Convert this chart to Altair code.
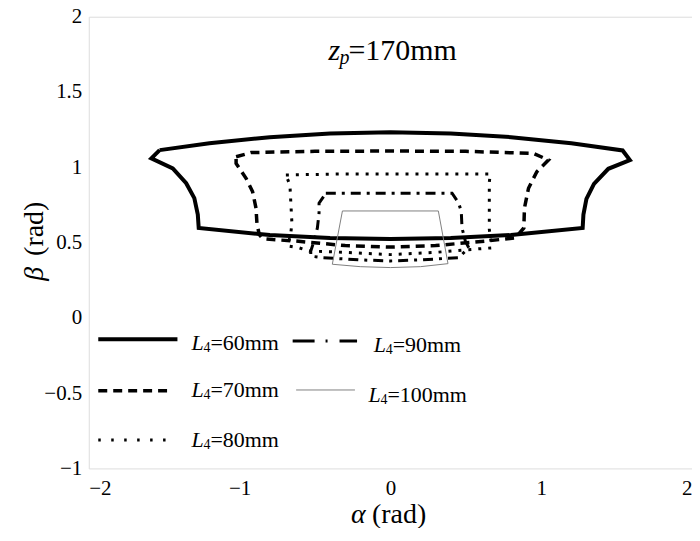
import altair as alt
import pandas as pd

# ---------------- data ----------------
l60_x = [-1.53, -1.2, -0.8, -0.4, 0.0, 0.4, 0.8, 1.2, 1.54, 1.588,
         1.445, 1.35, 1.30, 1.28, 1.275,
         0.8, 0.4, 0.0, -0.4, -0.8, -1.271,
         -1.277, -1.30, -1.354, -1.443, -1.585, -1.53]
l60_y = [1.114, 1.16, 1.20, 1.225, 1.233, 1.225, 1.20, 1.16, 1.112, 1.048,
         0.99, 0.89, 0.79, 0.686, 0.597,
         0.55, 0.53, 0.523, 0.53, 0.55, 0.597,
         0.686, 0.795, 0.894, 0.993, 1.059, 1.114]

l70_x = [-1.023, -0.924, -0.5, 0.0, 0.5, 0.949, 1.048,
         0.971, 0.916, 0.889, 0.885, 0.828,
         0.63, 0.3, 0.0, -0.3, -0.627, -0.78, -0.848, -0.87,
         -0.885, -0.891, -0.914, -0.957, -1.023, -1.023]
l70_y = [1.07, 1.098, 1.106, 1.108, 1.106, 1.092, 1.048,
         0.971, 0.861, 0.729, 0.597, 0.531,
         0.51, 0.48, 0.47, 0.48, 0.51, 0.52, 0.527, 0.554,
         0.63, 0.729, 0.839, 0.927, 1.026, 1.07]

l80_x = [-0.693, -0.3, 0.0, 0.3, 0.662,
         0.656, 0.656, 0.656, 0.673,
         0.54, 0.3, 0.0, -0.3, -0.539, -0.605, -0.68,
         -0.66, -0.653, -0.66, -0.666, -0.693]
l80_y = [0.949, 0.956, 0.956, 0.956, 0.956,
         0.90, 0.75, 0.587, 0.465,
         0.455, 0.435, 0.42, 0.435, 0.444, 0.465, 0.477,
         0.564, 0.63, 0.762, 0.883, 0.949]

l90_x = [-0.428, 0.0, 0.409, 0.453, 0.47, 0.475, 0.497, 0.52, 0.453,
         0.2, 0.0, -0.2, -0.45, -0.528,
         -0.528, -0.506, -0.484, -0.473, -0.473, -0.428]
l90_y = [0.828, 0.828, 0.828, 0.762, 0.707, 0.597, 0.51, 0.465, 0.40,
         0.385, 0.378, 0.385, 0.40, 0.41,
         0.444, 0.51, 0.597, 0.696, 0.762, 0.828]

l100_x = [-0.318, 0.318, 0.382, 0.2, 0.0, -0.2, -0.385, -0.318]
l100_y = [0.71, 0.71, 0.36, 0.34, 0.334, 0.34, 0.356, 0.71]

series_names = ["60", "70", "80", "90", "100"]
series_x = [l60_x, l70_x, l80_x, l90_x, l100_x]
series_y = [l60_y, l70_y, l80_y, l90_y, l100_y]

x_ticks = [-2, -1, 0, 1, 2]
y_ticks = [-1, -0.5, 0, 0.5, 1, 1.5, 2]

# ---------------- styles / layout ----------------
FONT = "Liberation Serif"
styles = {
    "60": dict(color="#000000", strokeWidth=4),
    "70": dict(color="#000000", strokeWidth=3.5, strokeDash=[9, 6]),
    "80": dict(color="#000000", strokeWidth=3, strokeDash=[3, 7]),
    "90": dict(color="#000000", strokeWidth=3, strokeDash=[10, 6, 3, 6]),
    "100": dict(color="#808080", strokeWidth=1),
}
legend_dash = {"60": None, "70": [9, 6], "80": [2.5, 10.5], "90": [22, 11, 2, 12], "100": None}
# legend line (x1, x2, y) and label (x, y) in data units
legend_line = {"60": (-1.937, -1.412, -0.142), "70": (-1.937, -1.443, -0.484),
               "80": (-1.937, -1.464, -0.812), "90": (-0.648, -0.221, -0.153),
               "100": (-0.625, -0.235, -0.479)}
legend_text = {"60": (-1.319, -0.169), "70": (-1.319, -0.479), "80": (-1.319, -0.812),
               "90": (-0.11, -0.18), "100": (-0.145, -0.512)}

xs = alt.Scale(domain=[-2, 2], nice=False, zero=False)
ys = alt.Scale(domain=[-1, 2], nice=False, zero=False)
x_axis = alt.Axis(values=x_ticks, format="d", title=None, grid=False, domain=False,
                  ticks=False, labelPadding=9, labelFontSize=21, labelFont=FONT,
                  labelColor="#000000")
y_axis = alt.Axis(values=y_ticks, format="~g", title=None, grid=False, domain=False,
                  ticks=False, labelPadding=7, labelFontSize=21, labelFont=FONT,
                  labelColor="#000000")


def X(field="x"):
    return alt.X(f"{field}:Q", scale=xs, axis=x_axis)


def Y(field="y"):
    return alt.Y(f"{field}:Q", scale=ys, axis=y_axis)


layers = []
for name, sx, sy in zip(series_names, series_x, series_y):
    df = pd.DataFrame({"x": sx, "y": sy, "i": list(range(len(sx)))})
    layers.append(alt.Chart(df).mark_line(strokeJoin="miter", **styles[name]).encode(
        x=X(), y=Y(), order="i:Q"))

# legend lines
for name in series_names:
    x1, x2, yy = legend_line[name]
    df = pd.DataFrame({"x": [x1], "x2": [x2], "y": [yy]})
    st = dict(styles[name])
    st.pop("strokeDash", None)
    if legend_dash[name] is not None:
        st["strokeDash"] = legend_dash[name]
    layers.append(alt.Chart(df).mark_rule(**st).encode(x=X(), x2="x2:Q", y=Y()))

# legend labels
lab = pd.DataFrame({
    "x": [legend_text[n][0] for n in series_names],
    "y": [legend_text[n][1] for n in series_names],
    "rest": ["=" + n + "mm" for n in series_names],
})
layers.append(alt.Chart(lab).mark_text(text="L", font=FONT, fontSize=22, fontStyle="italic",
                                       align="left", baseline="middle", color="#000").encode(x=X(), y=Y()))
layers.append(alt.Chart(lab).mark_text(text="4", font=FONT, fontSize=14, dx=12, dy=5,
                                       align="left", baseline="middle", color="#000").encode(x=X(), y=Y()))
layers.append(alt.Chart(lab).mark_text(font=FONT, fontSize=22, dx=19,
                                       align="left", baseline="middle", color="#000").encode(
    x=X(), y=Y(), text="rest:N"))

# in-plot title  z_p=170mm
tdf = pd.DataFrame({"x": [-0.41], "y": [1.775]})
layers.append(alt.Chart(tdf).mark_text(text="z", font=FONT, fontSize=30, fontStyle="italic",
                                       align="left", baseline="middle", color="#000").encode(x=X(), y=Y()))
layers.append(alt.Chart(tdf).mark_text(text="p", font=FONT, fontSize=20, fontStyle="italic", dx=11, dy=7,
                                       align="left", baseline="middle", color="#000").encode(x=X(), y=Y()))
layers.append(alt.Chart(tdf).mark_text(text="=170mm", font=FONT, fontSize=30, dx=20,
                                       align="left", baseline="middle", color="#000").encode(x=X(), y=Y()))

# axis titles as text
xt = pd.DataFrame({"x": [-0.261], "y": [-1.31]})
layers.append(alt.Chart(xt).mark_text(text="α", font=FONT, fontSize=28, fontStyle="italic",
                                      align="left", baseline="middle", color="#000").encode(x=X(), y=Y()))
layers.append(alt.Chart(xt).mark_text(text="(rad)", font=FONT, fontSize=28, dx=21,
                                      align="left", baseline="middle", color="#000").encode(x=X(), y=Y()))
yt = pd.DataFrame({"x": [-2.357], "y": [0.246]})
layers.append(alt.Chart(yt).mark_text(text="β", font=FONT, fontSize=28, fontStyle="italic", angle=270,
                                      align="left", baseline="middle", color="#000").encode(x=X(), y=Y()))
layers.append(alt.Chart(yt).mark_text(text="(rad)", font=FONT, fontSize=28, angle=270, dx=25,
                                      align="left", baseline="middle", color="#000").encode(x=X(), y=Y()))

chart = alt.layer(*layers).properties(
    width=605, height=453,
    autosize=alt.AutoSizeParams(type="none"),
    padding={"left": 81, "top": 8, "right": 0, "bottom": 59},
).configure_view(stroke="#9a9a9a", strokeWidth=1.5).configure_axis(
    labelFont=FONT, labelFontSize=21, labelColor="#000000"
).configure_text(font=FONT).configure(background="white", font=FONT)

chart.save("out.html", embed_options={"renderer": "svg", "actions": False})
